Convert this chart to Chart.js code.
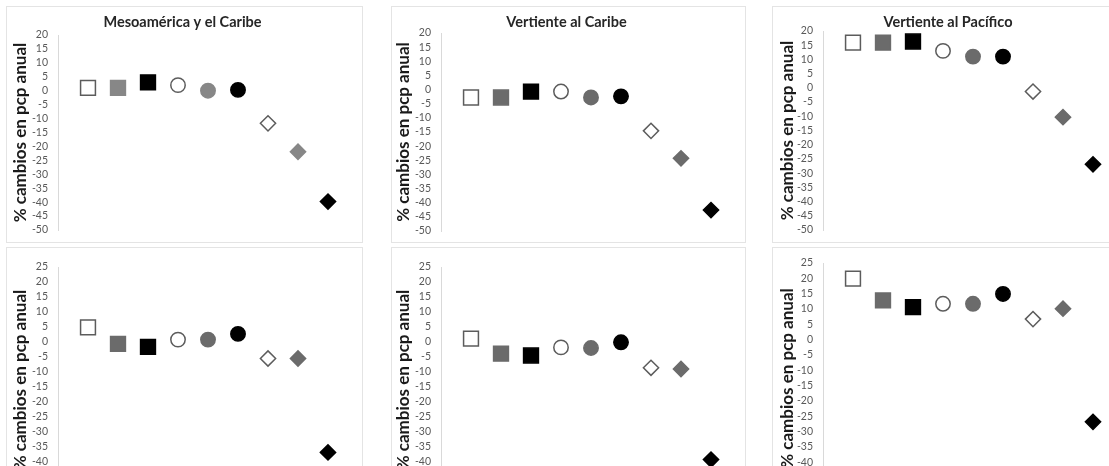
<!DOCTYPE html>
<html lang="es">
<head>
<meta charset="utf-8">
<title>% cambios en pcp anual</title>
<script src="https://cdn.jsdelivr.net/npm/chart.js@4.4.1/dist/chart.umd.min.js"></script>
<style>
  html, body { margin: 0; padding: 0; background: #fff; }
  body { width: 1109px; height: 466px; overflow: hidden; position: relative; }
  canvas { position: absolute; outline: 1px solid #e4e4e4; }
</style>
</head>
<body>
<canvas id="sup1" width="355" height="235" style="left:7px;top:7px"></canvas>
<canvas id="sup2" width="353" height="235" style="left:392px;top:7px"></canvas>
<canvas id="sup3" width="358" height="235" style="left:773px;top:7px"></canvas>
<canvas id="inf1" width="355" height="256" style="left:7px;top:248px"></canvas>
<canvas id="inf2" width="353" height="256" style="left:392px;top:248px"></canvas>
<canvas id="inf3" width="358" height="257" style="left:773px;top:248px"></canvas>
<script>
// posiciones de los 9 escenarios sobre el eje x
var posiciones = [1, 2, 3, 4, 5, 6, 7, 8, 9];

// % cambios en pcp anual (fila superior)
var mesoamericaSup = [1, 1, 3, 2, 0, 0.3, -11.7, -21.9, -39.8];
var caribeSup      = [-2.8, -2.8, -0.7, -0.7, -2.8, -2.4, -14.6, -24.3, -42.6];
var pacificoSup    = [15.9, 15.9, 16.3, 13, 11, 11, -1.3, -10.3, -26.9];

// % cambios en pcp anual (fila inferior)
var mesoamericaInf = [4.9, -0.6, -1.6, 0.8, 0.8, 2.7, -5.5, -5.5, -36.8];
var caribeInf      = [1.1, -3.9, -4.5, -1.8, -2, -0.1, -8.6, -9, -39.2];
var pacificoInf    = [19.9, 12.8, 10.6, 11.7, 11.7, 14.9, 6.7, 10.1, -26.8];

// rangos de los ejes y (min, max)
var rangoSup = [-50, 20];
var rangoInf = [-50, 25];

var titulos = ['Mesoamérica y el Caribe', 'Vertiente al Caribe', 'Vertiente al Pacífico'];
var tituloEje = '% cambios en pcp anual';

// marcadores: cuadrados, circulos y rombos en blanco, gris y negro
var formas = ['rect', 'rect', 'rect', 'circle', 'circle', 'circle', 'rectRot', 'rectRot', 'rectRot'];
var tonos = ['blanco', 'gris', 'negro', 'blanco', 'gris', 'negro', 'blanco', 'gris', 'negro'];
var radios = [10.5, 10.5, 10.5, 7.2, 7.2, 7.2, 7.6, 7.6, 7.6];

function panel(id, valores, rango, cfg) {
    var relleno = tonos.map(function (t) {
        return t === 'blanco' ? '#ffffff' : (t === 'gris' ? cfg.gris : '#000000');
    });
    var borde = tonos.map(function (t) {
        return t === 'blanco' ? '#5c5c5c' : (t === 'gris' ? cfg.gris : '#000000');
    });

    return new Chart(document.getElementById(id).getContext('2d'), {
        type: 'scatter',
        data: {
            datasets: [{
                data: posiciones.map(function (x, i) { return { x: x, y: valores[i] }; }),
                pointStyle: formas,
                pointRadius: radios,
                pointHoverRadius: radios,
                pointBackgroundColor: relleno,
                pointBorderColor: borde,
                pointBorderWidth: 1.5,
                clip: false
            }]
        },
        options: {
            responsive: false,
            animation: false,
            layout: {
                autoPadding: false,
                padding: { top: cfg.titulo ? 0 : cfg.arriba, right: cfg.derecha, bottom: cfg.abajo, left: 0 }
            },
            plugins: {
                legend: { display: false },
                tooltip: { enabled: false },
                title: {
                    display: !!cfg.titulo,
                    text: cfg.titulo,
                    color: '#262626',
                    font: { family: 'Lato', size: 14.5, weight: 'bold', lineHeight: 1.2 },
                    padding: { top: 7, bottom: cfg.arriba - 7 - 17.4 }
                }
            },
            scales: {
                x: { type: 'linear', min: 0, max: 10, display: false },
                y: {
                    min: rango[0],
                    max: rango[1],
                    afterFit: function (s) {
                        s.width = cfg.eje;
                        s.paddingTop = 0;
                        s.paddingBottom = 0;
                    },
                    grid: { display: false, drawTicks: false },
                    border: { color: '#d9d9d9', width: 1 },
                    ticks: {
                        stepSize: 5,
                        autoSkip: false,
                        padding: 10,
                        color: '#595959',
                        font: { family: 'Lato', size: 10.5 }
                    },
                    title: {
                        display: true,
                        text: tituloEje,
                        color: '#1a1a1a',
                        font: { family: 'Lato', size: 17, weight: 'bold', lineHeight: 1.2 },
                        padding: { top: cfg.margenTitulo, bottom: 0 }
                    }
                }
            }
        }
    });
}

panel('sup1', mesoamericaSup, rangoSup, { titulo: titulos[0], arriba: 28, abajo: 12, derecha: 4, eje: 51, margenTitulo: 3, gris: '#878787' });
panel('sup2', caribeSup, rangoSup, { titulo: titulos[1], arriba: 26, abajo: 11, derecha: 4, eje: 49, margenTitulo: 1, gris: '#6b6b6b' });
panel('sup3', pacificoSup, rangoSup, { titulo: titulos[2], arriba: 24, abajo: 12, derecha: 8, eje: 50, margenTitulo: 4, gris: '#6b6b6b' });
panel('inf1', mesoamericaInf, rangoInf, { arriba: 19, abajo: 12, derecha: 4, eje: 51, margenTitulo: 3, gris: '#6b6b6b' });
panel('inf2', caribeInf, rangoInf, { arriba: 19, abajo: 12, derecha: 4, eje: 49, margenTitulo: 1, gris: '#6b6b6b' });
panel('inf3', pacificoInf, rangoInf, { arriba: 15, abajo: 12, derecha: 8, eje: 50, margenTitulo: 4, gris: '#6b6b6b' });
</script>
</body>
</html>
